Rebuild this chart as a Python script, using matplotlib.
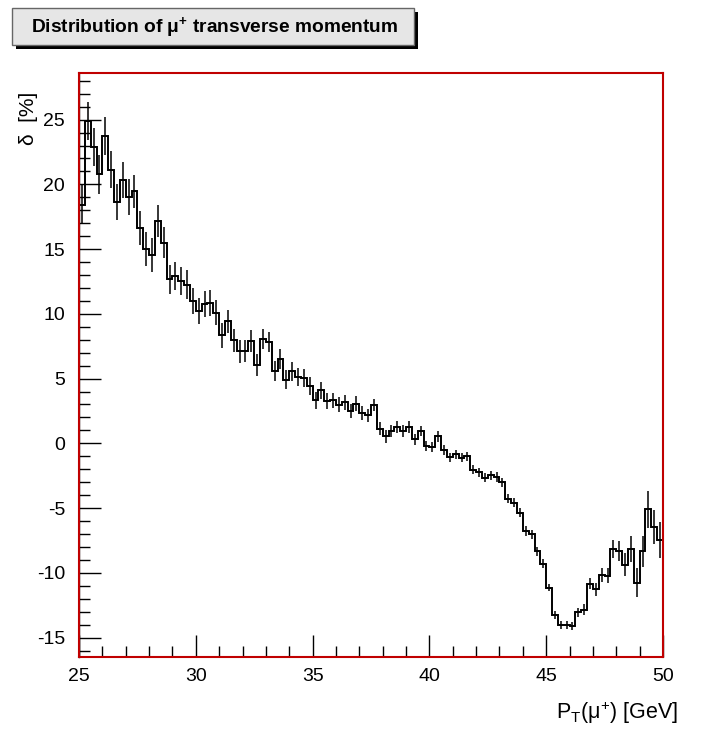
import numpy as np
import matplotlib
matplotlib.use("Agg")
import matplotlib.pyplot as plt
from matplotlib.patches import Rectangle

plt.rcParams['font.family'] = ['Liberation Sans', 'DejaVu Sans']
plt.rcParams['mathtext.fontset'] = 'custom'
plt.rcParams['mathtext.rm'] = 'Liberation Sans'
plt.rcParams['mathtext.it'] = 'Liberation Sans:italic'
plt.rcParams['mathtext.bf'] = 'Liberation Sans:bold'
plt.rcParams['axes.unicode_minus'] = False

# ---- data ----
x_min, x_max, n_bins = 25.0, 50.0, 100
delta = [
    18.43, 24.89, 22.88, 20.77, 23.73, 21.14, 18.63, 20.31, 19.02, 19.46,
    16.63, 15.03, 14.52, 17.17, 15.50, 12.66, 12.92, 12.53, 12.25, 10.99,
    10.22, 10.79, 10.83, 10.09, 8.34, 9.42, 7.95, 7.10, 7.10, 7.88,
    6.08, 8.05, 7.82, 5.58, 6.51, 4.92, 5.56, 5.12, 5.07, 4.40,
    3.32, 4.09, 3.27, 3.32, 2.99, 3.17, 2.49, 3.07, 2.37, 2.16,
    2.96, 1.14, 0.54, 0.93, 1.26, 0.95, 1.26, 0.31, 0.93, -0.23,
    -0.29, 0.54, -0.49, -1.06, -0.85, -1.10, -1.00, -2.03, -2.22, -2.65,
    -2.47, -2.60, -2.99, -4.27, -4.58, -5.35, -6.77, -7.03, -8.32, -9.29,
    -11.14, -13.28, -14.05, -14.05, -14.11, -13.03, -12.84, -10.83, -11.27, -10.19,
    -10.22, -8.19, -8.32, -9.37, -8.19, -10.76, -8.34, -5.10, -6.46, -7.49,
]
errors = [
    1.5, 1.5, 1.5, 1.5, 1.5, 1.4, 1.4, 1.4, 1.4, 1.3,
    1.3, 1.3, 1.3, 1.2, 1.2, 1.1, 1.1, 1.1, 1.1, 1.0,
    1.0, 1.0, 1.0, 0.95, 0.95, 0.9, 0.9, 0.9, 0.85, 0.85,
    0.85, 0.8, 0.8, 0.8, 0.75, 0.75, 0.75, 0.7, 0.7, 0.7,
    0.65, 0.65, 0.6, 0.6, 0.6, 0.6, 0.55, 0.55, 0.55, 0.5,
    0.5, 0.5, 0.5, 0.45, 0.45, 0.45, 0.45, 0.4, 0.4, 0.4,
    0.4, 0.4, 0.4, 0.35, 0.35, 0.35, 0.35, 0.35, 0.35, 0.35,
    0.35, 0.35, 0.35, 0.35, 0.35, 0.35, 0.35, 0.35, 0.35, 0.35,
    0.3, 0.3, 0.3, 0.3, 0.3, 0.35, 0.4, 0.45, 0.5, 0.55,
    0.6, 0.7, 0.8, 0.9, 1.0, 1.1, 1.2, 1.4, 1.3, 1.4,
]
x_ticks = [25, 30, 35, 40, 45, 50]
y_ticks = [-15, -10, -5, 0, 5, 10, 15, 20, 25]

title_text = "Distribution of μ$^\\mathbf{+}$ transverse momentum"
x_label = "P$_\\mathregular{T}$(μ$^\\mathregular{+}$) [GeV]"
y_label = "δ  [%]"

# ---- figure ----
fig = plt.figure(figsize=(7.10, 7.29), dpi=100)
ax = fig.add_axes([79/710, 1-657/729, (663-79)/710, (657-73)/729])

edges = np.linspace(x_min, x_max, n_bins + 1)
centers = 0.5 * (edges[:-1] + edges[1:])
vals = np.array(delta)
errs = np.array(errors)

ax.stairs(vals, edges, color='black', lw=1.4, baseline=None)
ax.errorbar(centers, vals, yerr=errs, fmt='none', ecolor='black', elinewidth=1.1, capsize=0)

ax.set_xlim(x_min, x_max)
ax.set_ylim(-16.5, 28.6)
ax.set_xticks(x_ticks)
ax.set_yticks(y_ticks)
ax.set_xticks(np.arange(25, 51, 1), minor=True)
ax.set_yticks(np.arange(-16, 29, 1), minor=True)
ax.tick_params(which='major', direction='in', length=16, width=1, labelsize=14,
               top=False, right=False, pad=8)
ax.tick_params(which='minor', direction='in', length=8, width=1, top=False, right=False)
ax.tick_params(axis='y', which='major', pad=10)

for s in ax.spines.values():
    s.set_color('#c00000')
    s.set_linewidth(1.5)
ax.plot([0, 1], [0, 0], transform=ax.transAxes, color='black', lw=1.2, clip_on=False)
ax.plot([0, 0], [0, 1], transform=ax.transAxes, color='black', lw=1.0, clip_on=False)

fig.text(678/710, 1-713/729, x_label, ha='right', va='center', fontsize=15.5)
fig.text(28/710, 1-118/729, y_label, ha='center', va='center', rotation=90, fontsize=15)

# title box with shadow
fig.patches.append(Rectangle((16/710, 1-49/729), (414-12)/710, (45-8)/729,
                             transform=fig.transFigure, facecolor='black',
                             edgecolor='none', zorder=1))
fig.patches.append(Rectangle((12/710, 1-45/729), (414-12)/710, (45-8)/729,
                             transform=fig.transFigure, facecolor='#e6e6e6',
                             edgecolor='#666666', lw=1, zorder=2))
fig.text(215/710, 1-27/729, title_text, ha='center', va='center',
         fontsize=13.8, fontweight='bold', zorder=3)

fig.savefig('out.png', dpi=100)
